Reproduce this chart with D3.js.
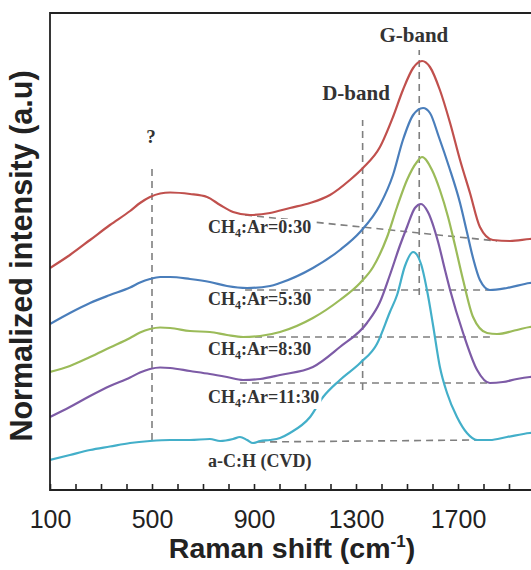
<!DOCTYPE html>
<html>
<head>
<meta charset="utf-8">
<script src="https://cdnjs.cloudflare.com/ajax/libs/d3/7.8.5/d3.min.js"></script>
<style>
	body { margin: 0; background: #fff; }
	svg { display: block; }
</style>
</head>
<body>
<div id="data-viz"></div>
<script>

// Raman spectra, stacked (already offset), arbitrary units
const samples = ["CH4:Ar=0:30", "CH4:Ar=5:30", "CH4:Ar=8:30", "CH4:Ar=11:30", "a-C:H (CVD)"]

const shift00 = [100,178,257,335,414,453,492,532,571,649,716,767,818,884,963,1041,1120,1198,1276,1327,1394,1445,1484,1524,1559,1590,1629,1669,1708,1747,1786,1837,1904,1982,2040]
const int00   = [4.44,4.70,5.00,5.30,5.58,5.74,5.86,5.93,5.95,5.92,5.86,5.70,5.56,5.50,5.54,5.64,5.74,5.90,6.20,6.44,6.86,7.46,8.00,8.44,8.58,8.46,8.00,7.34,6.60,5.94,5.26,5.00,4.98,5.02,5.04]

const shift05 = [100,178,257,335,414,453,492,532,571,649,727,794,873,963,1002,1131,1237,1316,1394,1445,1484,1524,1563,1590,1625,1665,1708,1735,1759,1786,1825,1892,1982,2040]
const int05   = [3.32,3.54,3.74,3.90,4.05,4.15,4.22,4.26,4.26,4.22,4.16,4.08,4.04,4.08,4.14,4.44,4.80,5.16,5.70,6.30,7.00,7.50,7.64,7.54,7.06,6.46,5.74,5.16,4.64,4.20,4.00,4.04,4.14,4.16]

const shift08 = [100,178,257,335,414,453,492,532,571,649,727,794,857,924,1002,1131,1237,1316,1367,1422,1461,1500,1539,1559,1598,1629,1661,1688,1720,1759,1814,1853,1931,1982,2040]
const int08   = [2.36,2.48,2.66,2.85,3.04,3.15,3.22,3.25,3.24,3.18,3.16,3.10,3.06,3.08,3.16,3.44,3.80,4.14,4.46,5.06,5.66,6.20,6.56,6.66,6.40,6.00,5.46,4.90,4.20,3.46,3.14,3.12,3.20,3.26,3.28]

const shift11 = [100,178,257,335,414,453,492,532,571,649,727,794,857,924,1002,1131,1237,1343,1394,1433,1473,1500,1531,1555,1582,1622,1649,1669,1720,1775,1825,1876,1931,1982,2040]
const int11   = [1.46,1.66,1.88,2.08,2.25,2.35,2.42,2.45,2.44,2.38,2.32,2.26,2.20,2.22,2.30,2.46,2.86,3.34,3.76,4.30,4.90,5.26,5.64,5.72,5.56,4.96,4.40,4.00,3.14,2.40,2.14,2.16,2.22,2.26,2.28]

const shiftCvd = [100,178,257,335,414,492,571,649,727,767,818,845,873,896,924,963,1002,1041,1120,1171,1237,1316,1382,1433,1461,1492,1524,1555,1582,1602,1629,1657,1696,1735,1775,1825,1892,1982,2040]
const intCvd   = [0.60,0.70,0.80,0.87,0.94,0.98,1.00,1.00,1.02,0.98,1.02,1.06,1.00,0.94,0.98,1.00,1.04,1.14,1.46,1.86,2.20,2.54,2.92,3.56,3.90,4.48,4.76,4.52,3.90,3.30,2.46,1.94,1.46,1.14,1.00,1.00,1.06,1.14,1.16]

// band guides (vertical dashed lines)
const bandNames = ["?", "D-band", "G-band"]
const bandShift = [500, 1326, 1548]
const bandLow   = [1.00, 2.00, 3.90]
const bandHigh  = [6.46, 7.40, 8.80]

// baselines under each spectrum (dashed)
const baseFrom  = [865, 865, 857, 845, 916]
const baseTo    = [1853, 1825, 1825, 1814, 1775]
const baseLeft  = [5.50, 4.00, 3.06, 2.14, 0.96]
const baseRight = [4.98, 4.00, 3.06, 2.14, 1.00]

const xTicks = [100,200,300,400,500,600,700,800,900,1000,1100,1200,1300,1400,1500,1600,1700,1800,1900,2000]
const xTickLabels = [100, 500, 900, 1300, 1700]

var app = {

	settings: {},

	init: () => {

		app.settings.width = 531

		app.settings.height = 570

		app.settings.margin = { top: 13, right: 0, bottom: 80, left: 50 }

		app.settings.colours = ["#c0504d", "#4a7ebb", "#9bbb59", "#7d5ba6", "#43afc9"]

		app.settings.serif = "'Liberation Serif', 'Times New Roman', serif"

		app.settings.sans = "'Liberation Sans', Arial, sans-serif"

		app.setup()

	},

	setup: () => {

		var shifts = [shift00, shift05, shift08, shift11, shiftCvd]

		var values = [int00, int05, int08, int11, intCvd]

		app.series = samples.map((name, i) => {
			return { name: name, points: shifts[i].map((s, j) => [s, values[i][j]]) }
		})

		app.create()

	},

	create: () => {

		var s = app.settings

		app.svg = d3.select("#data-viz").append("svg")
			.attr("width", s.width)
			.attr("height", s.height)

		// plot is wider than the picture, the right part gets cut off
		app.x = d3.scaleLinear()
			.domain([100, 2100])
			.range([s.margin.left, s.margin.left + 510])

		app.y = d3.scaleLinear()
			.domain([0, 9.54])
			.range([s.height - s.margin.bottom, s.margin.top])

		app.svg.append("clipPath").attr("id", "plot-clip")
			.append("rect")
			.attr("x", s.margin.left)
			.attr("y", s.margin.top)
			.attr("width", s.width - s.margin.left)
			.attr("height", s.height - s.margin.bottom - s.margin.top)

		app.drawGuides()

		app.drawSpectra()

		app.drawLabels()

		app.drawAxes()

	},

	drawGuides: () => {

		var g = app.svg.append("g").attr("class", "guides")

		bandShift.forEach((b, i) => {
			g.append("line")
				.attr("x1", app.x(b)).attr("x2", app.x(b))
				.attr("y1", app.y(bandLow[i])).attr("y2", app.y(bandHigh[i]))
				.attr("stroke", "#7f7f7f")
				.attr("stroke-width", 1.6)
				.attr("stroke-dasharray", "7,5")
		})

		baseFrom.forEach((b, i) => {
			g.append("line")
				.attr("x1", app.x(b)).attr("x2", app.x(baseTo[i]))
				.attr("y1", app.y(baseLeft[i])).attr("y2", app.y(baseRight[i]))
				.attr("stroke", "#7f7f7f")
				.attr("stroke-width", 1.6)
				.attr("stroke-dasharray", "7,5")
		})

	},

	drawSpectra: () => {

		var line = d3.line()
			.x(d => app.x(d[0]))
			.y(d => app.y(d[1]))
			.curve(d3.curveMonotoneX)

		app.svg.append("g")
			.attr("clip-path", "url(#plot-clip)")
			.selectAll("path")
			.data(app.series)
			.join("path")
			.attr("d", d => line(d.points))
			.attr("fill", "none")
			.attr("stroke", (d, i) => app.settings.colours[i])
			.attr("stroke-width", 2.2)
			.attr("stroke-linejoin", "round")

	},

	drawLabels: () => {

		var s = app.settings

		// label anchors in data units
		var labelShift = 720
		var labelLevel = [5.14, 3.70, 2.70, 1.74, 0.47]

		var g = app.svg.append("g").attr("class", "labels")

		samples.forEach((name, i) => {

			var holder = g.append("g")

			var text = holder.append("text")
				.attr("x", app.x(labelShift))
				.attr("y", app.y(labelLevel[i]))
				.attr("font-family", s.serif)
				.attr("font-weight", "bold")
				.attr("font-size", 18)
				.attr("fill", "#333")

			if (name.startsWith("CH4")) {
				text.append("tspan").text("CH")
				text.append("tspan").text("4").attr("font-size", 12).attr("dy", 4)
				text.append("tspan").text(name.slice(3)).attr("dy", -4)
			} else {
				text.text(name)
			}

			var box = text.node().getBBox()

			holder.insert("rect", "text")
				.attr("x", box.x - 2)
				.attr("y", box.y + 2)
				.attr("width", box.width + 4)
				.attr("height", box.height - 3)
				.attr("fill", "#fff")

		})

		var bandLabelShift = [496, 1300, 1527]
		var bandLabelLevel = [6.94, 7.80, 8.97]
		var bandLabelSize = [19, 21, 21]

		bandNames.forEach((name, i) => {
			g.append("text")
				.attr("x", app.x(bandLabelShift[i]))
				.attr("y", app.y(bandLabelLevel[i]))
				.attr("text-anchor", "middle")
				.attr("font-family", s.serif)
				.attr("font-weight", "bold")
				.attr("font-size", bandLabelSize[i])
				.attr("fill", "#333")
				.text(name)
		})

	},

	drawAxes: () => {

		var s = app.settings

		var bottom = s.height - s.margin.bottom

		var axis = d3.axisBottom(app.x)
			.tickValues(xTicks)
			.tickSizeInner(-6)
			.tickSizeOuter(0)
			.tickFormat(d => xTickLabels.includes(d) ? d : "")

		var gx = app.svg.append("g")
			.attr("transform", `translate(0,${bottom})`)
			.call(axis)

		gx.select(".domain").remove()

		gx.selectAll(".tick line")
			.attr("stroke", "#222")
			.attr("stroke-width", 1.6)

		gx.selectAll(".tick text")
			.attr("y", 38)
			.attr("dy", null)
			.attr("font-family", s.sans)
			.attr("font-size", 25)
			.attr("fill", "#222")

		// frame: left, top and bottom
		var frame = d3.path()
		frame.moveTo(s.width, s.margin.top)
		frame.lineTo(s.margin.left, s.margin.top)
		frame.lineTo(s.margin.left, bottom)
		frame.lineTo(s.width, bottom)

		app.svg.append("path")
			.attr("d", frame.toString())
			.attr("fill", "none")
			.attr("stroke", "#222")
			.attr("stroke-width", 1.8)

		var title = app.svg.append("text")
			.attr("x", 292)
			.attr("y", 558)
			.attr("text-anchor", "middle")
			.attr("font-family", s.sans)
			.attr("font-weight", "bold")
			.attr("font-size", 28.5)
			.attr("fill", "#222")

		title.append("tspan").text("Raman shift (cm")
		title.append("tspan").text("-1").attr("font-size", 17).attr("dy", -11)
		title.append("tspan").text(")").attr("dy", 11)

		app.svg.append("text")
			.attr("transform", "translate(32,256) rotate(-90)")
			.attr("text-anchor", "middle")
			.attr("font-family", s.sans)
			.attr("font-weight", "bold")
			.attr("font-size", 30.5)
			.attr("fill", "#222")
			.text("Normalized intensity (a.u)")

	}

}

app.init()

</script>
</body>
</html>
